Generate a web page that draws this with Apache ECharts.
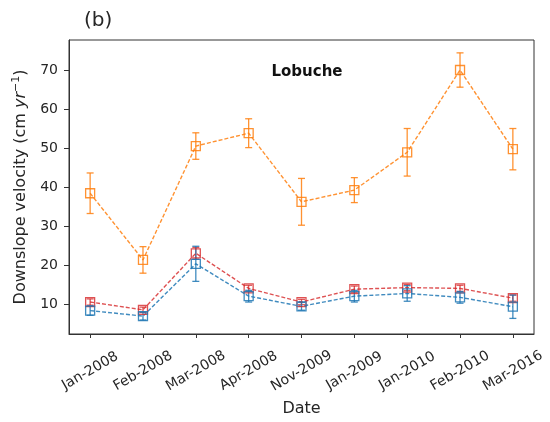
<!DOCTYPE html>
<html>
<head>
<meta charset="utf-8">
<script src="https://cdn.jsdelivr.net/npm/echarts@6/dist/echarts.min.js"></script>
<style>
  html, body { margin: 0; padding: 0; background: #fff; }
  #chart { width: 550px; height: 422px; }
</style>
</head>
<body>
<div id="chart"></div>
<script>
  // dates on the x axis
  const dates = ['Jan-2008', 'Feb-2008', 'Mar-2008', 'Apr-2008', 'Nov-2009',
                 'Jan-2009', 'Jan-2010', 'Feb-2010', 'Mar-2016'];
  const yTicks = [10, 20, 30, 40, 50, 60, 70];

  // downslope velocity (cm/yr) and error half-width
  const orangeMean = [38.4, 21.3, 50.5, 53.8, 36.2, 39.2, 48.9, 70.0, 49.7];
  const orangeErr  = [5.2, 3.4, 3.4, 3.7, 6.0, 3.2, 6.1, 4.4, 5.3];
  const redMean    = [10.5, 8.5, 23.0, 14.0, 10.5, 13.8, 14.2, 14.0, 11.5];
  const redErr     = [0.8, 0.7, 1.5, 0.8, 0.7, 0.8, 0.8, 0.8, 0.8];
  const blueMean   = [8.3, 6.9, 20.3, 12.0, 9.4, 12.0, 12.7, 11.7, 9.3];
  const blueErr    = [1.2, 1.0, 4.5, 1.5, 1.0, 1.5, 2.0, 1.5, 3.0];

  const FONT = 'DejaVu Sans';
  const TXT = '#262626';

  function pts(vals) {
    return vals.map((v, i) => [i, v]);
  }
  function bars(vals, errs) {
    return vals.map((v, i) => [i, v - errs[i], v + errs[i]]);
  }

  function errorBar(color) {
    return function (params, api) {
      const x = api.value(0);
      const top = api.coord([x, api.value(2)]);
      const bot = api.coord([x, api.value(1)]);
      const w = 3.5;
      const st = { stroke: color, lineWidth: 1.3 };
      return {
        type: 'group',
        children: [
          { type: 'line', shape: { x1: top[0], y1: top[1], x2: bot[0], y2: bot[1] }, style: st },
          { type: 'line', shape: { x1: top[0] - w, y1: top[1], x2: top[0] + w, y2: top[1] }, style: st },
          { type: 'line', shape: { x1: bot[0] - w, y1: bot[1], x2: bot[0] + w, y2: bot[1] }, style: st }
        ]
      };
    };
  }

  function lineSeries(name, vals, color) {
    return {
      name: name,
      type: 'line',
      data: pts(vals),
      symbol: 'rect',
      symbolSize: 9,
      itemStyle: { color: 'rgba(0,0,0,0)', borderColor: color, borderWidth: 1.3 },
      lineStyle: { color: color, width: 1.4, type: [4, 2] },
      emphasis: { disabled: true },
      animation: false
    };
  }

  function errSeries(name, vals, errs, color) {
    return {
      name: name + ' err',
      type: 'custom',
      renderItem: errorBar(color),
      encode: { x: 0, y: [1, 2] },
      data: bars(vals, errs),
      animation: false
    };
  }

  const orange = 'rgba(255,127,14,0.85)';
  const red = 'rgba(214,39,40,0.8)';
  const blue = 'rgba(31,119,180,0.85)';

  const chart = echarts.init(document.getElementById('chart'));
  chart.setOption({
    backgroundColor: '#fff',
    animation: false,
    textStyle: { fontFamily: FONT },
    title: [
      { text: '(b)', left: 79, top: 6,
        textStyle: { fontFamily: FONT, fontSize: 20, fontWeight: 'normal', color: TXT } },
      { text: 'Lobuche', left: 302, top: 60, textAlign: 'center',
        textStyle: { fontFamily: FONT, fontSize: 15, fontWeight: 'bold', color: '#111' } }
    ],
    grid: {
      left: 69, right: 16, top: 40, bottom: 88,
      show: true, borderColor: '#333', borderWidth: 1,
      outerBoundsMode: 'none'
    },
    xAxis: {
      type: 'value',
      min: -0.4, max: 8.4,
      name: 'Date',
      nameLocation: 'middle',
      nameGap: 66,
      nameTextStyle: { fontFamily: FONT, fontSize: 16, color: TXT },
      axisLine: { show: true, onZero: false, lineStyle: { color: '#333', width: 1 } },
      axisTick: { show: true, length: 4, customValues: dates.map((d, i) => i),
                  lineStyle: { color: '#333' } },
      axisLabel: {
        customValues: dates.map((d, i) => i),
        formatter: v => dates[Math.round(v)] || '',
        rotate: 30, align: 'center', verticalAlign: 'middle', margin: 37,
        fontFamily: FONT, fontSize: 14, color: TXT
      },
      splitLine: { show: false }
    },
    yAxis: {
      type: 'value',
      min: 2.3, max: 77.7,
      name: 'Downslope velocity (cm {i|yr}{s|−1})',
      nameLocation: 'middle',
      nameGap: 38,
      nameTextStyle: {
        fontFamily: FONT, fontSize: 16, color: TXT,
        rich: {
          i: { fontFamily: FONT, fontSize: 16, fontStyle: 'italic', color: TXT },
          s: { fontFamily: FONT, fontSize: 11, color: TXT, padding: [0, 0, 9, 0] }
        }
      },
      axisLine: { show: true, onZero: false, lineStyle: { color: '#333', width: 1 } },
      axisTick: { show: true, length: 5, customValues: yTicks, lineStyle: { color: '#333' } },
      axisLabel: { customValues: yTicks, margin: 11, fontFamily: FONT, fontSize: 14, color: TXT },
      splitLine: { show: false }
    },
    series: [
      errSeries('orange', orangeMean, orangeErr, orange),
      lineSeries('orange', orangeMean, orange),
      errSeries('red', redMean, redErr, red),
      lineSeries('red', redMean, red),
      errSeries('blue', blueMean, blueErr, blue),
      lineSeries('blue', blueMean, blue)
    ]
  });
</script>
</body>
</html>
